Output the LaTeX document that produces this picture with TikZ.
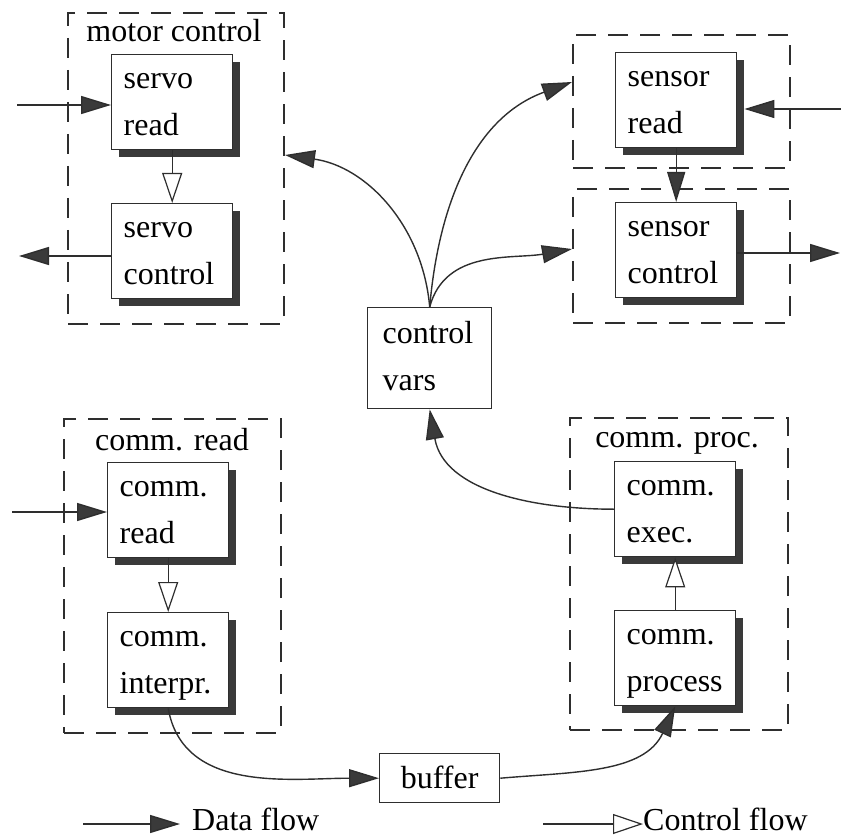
\documentclass[tikz,border=0pt]{standalone}
\usepackage{fontspec}
\setmainfont{Liberation Serif}
\usetikzlibrary{arrows.meta,shadows}

\definecolor{ink}{HTML}{2E2E2E}
\definecolor{shade}{HTML}{3A3A3A}

\tikzset{
  every node/.style={font=\fontsize{32}{47}\selectfont, text=black},
  % task box with a solid drop shadow
  box/.style={draw=ink, line width=1.4pt, fill=white, anchor=north west,
    text width=97pt, inner xsep=12pt, inner ysep=0pt,
    text height=34pt, text depth=61pt, align=left,
    drop shadow={shadow xshift=7pt, shadow yshift=-7pt, fill=shade, opacity=1}},
  % shared data store
  store/.style={draw=ink, line width=1.4pt, fill=white, anchor=north west, inner ysep=0pt},
  % dashed process boundary
  group/.style={draw=ink, line width=2pt, dash pattern=on 20pt off 12pt,
    anchor=north west, inner sep=0pt},
  grouptitle/.style={anchor=base, inner sep=0pt},
  data/.style={draw=ink, line width=1.4pt, -{Triangle[length=30pt,width=18pt,fill=shade]}},
  ctrl/.style={draw=ink, line width=1.2pt, -{Triangle[open,length=30pt,width=20pt,fill=white]}},
}

\begin{document}
\begin{tikzpicture}[x=1pt,y=1pt]
\useasboundingbox (0,0) rectangle (841,-837);

% process boundaries
\node[group, minimum width=216pt, minimum height=311pt] (gm) at (67,-12) {};
\node[group, minimum width=217pt, minimum height=133pt] (gs1) at (572,-34) {};
\node[group, minimum width=217pt, minimum height=134pt] (gs2) at (572,-188) {};
\node[group, minimum width=217pt, minimum height=314pt] (gr) at (63,-418) {};
\node[group, minimum width=218pt, minimum height=312pt] (gp) at (569,-417) {};

\node[grouptitle] (tm) at (174,-42) {motor control};
\node[grouptitle] (tr) at (172,-450) {comm. read};
\node[grouptitle] (tp) at (677,-447) {comm. proc.};

% tasks
\node[box] (sr)  at (111,-54)  {servo\\read};
\node[box] (sc)  at (111,-203) {servo\\control};
\node[box] (snr) at (615,-52)  {sensor\\read};
\node[box] (snc) at (615,-202) {sensor\\control};
\node[box] (cr)  at (107,-462) {comm.\\read};
\node[box] (ci)  at (107,-612) {comm.\\interpr.};
\node[box] (ce)  at (614,-461) {comm.\\exec.};
\node[box] (cp)  at (614,-610) {comm.\\process};

% data stores
\node[store, text width=94pt, inner xsep=15pt, text height=36pt, text depth=65pt, align=left]
  (cv) at (367,-307) {control\\vars};
\node[store, minimum width=120pt, text height=35pt, text depth=14pt] (buf) at (379,-753) {buffer};

% external ends
\coordinate (inServo)  at (17,-105);
\coordinate (outServo) at (19,-256);
\coordinate (inSens)   at (841,-109);
\coordinate (outSens)  at (840,-253);
\coordinate (inComm)   at (12,-512);

% control flow
\draw[ctrl] (sr.south) -- (sc.north);
\draw[ctrl] (cr.south) -- (ci.north);
\draw[ctrl] (cp.north) -- (ce.south);

% data flow
\draw[data] (inServo) -- (inServo -| sr.west);
\draw[data] (outServo -| sc.west) -- (outServo);
\draw[data, shorten >=7pt] (inSens) -- (inSens -| snr.east);
\draw[data] (outSens -| snc.east) -- (outSens);
\draw[data] (inComm) -- (inComm -| cr.west);
\draw[data] (snr.south) -- (snc.north);

\draw[data] (cv.north) to[out=95, in=-8] (gm.east |- 0,-155);
\draw[data] (cv.north) to[out=85, in=200] (gs1.west |- 0,-82);
\draw[data] (cv.north) to[out=75, in=190] (gs2.west |- 0,-249);
\draw[data] (ce.west) to[out=180, in=-80] (cv.south);
\draw[data] (ci.south) to[out=-80, in=180] (buf.west);
\draw[data] (buf.east) to[out=5, in=-115] (cp.south);

% legend
\coordinate (ld1) at (83,-824);
\coordinate (ld2) at (180,-824);
\coordinate (lc1) at (543,-824);
\coordinate (lc2) at (643,-824);
\draw[data] (ld1) -- (ld2);
\draw[ctrl] (lc1) -- (lc2);
\node[anchor=base west, inner sep=0pt] (ldt) at (192,-830) {Data flow};
\node[anchor=base west, inner sep=0pt] (lct) at (643,-830) {Control flow};
\end{tikzpicture}
\end{document}
